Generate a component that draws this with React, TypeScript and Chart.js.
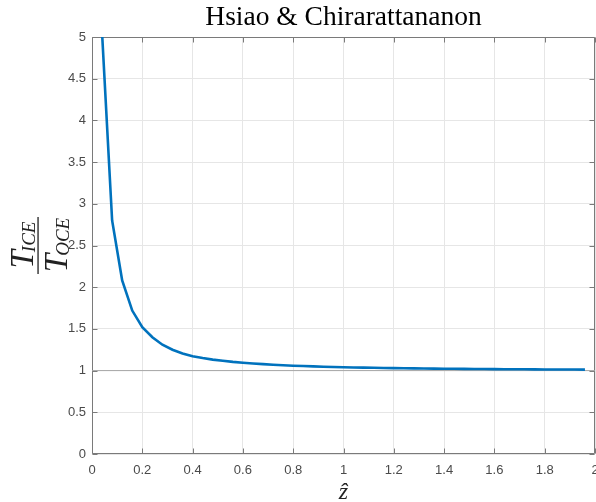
import React, { useEffect, useRef } from 'react';
import { Chart, registerables } from 'chart.js';

Chart.register(...registerables);

// ---- data ----
const zHat = [
  0.04, 0.08, 0.12, 0.16, 0.2, 0.24, 0.28, 0.32, 0.36, 0.4,
  0.44, 0.48, 0.52, 0.56, 0.6, 0.64, 0.68, 0.72, 0.76, 0.8,
  0.84, 0.88, 0.92, 0.96, 1.0, 1.04, 1.08, 1.12, 1.16, 1.2,
  1.24, 1.28, 1.32, 1.36, 1.4, 1.44, 1.48, 1.52, 1.56, 1.6,
  1.64, 1.68, 1.72, 1.76, 1.8, 1.84, 1.88, 1.92, 1.96,
];
const timeRatio = [
  5.05, 2.8, 2.08, 1.72, 1.52, 1.4, 1.31, 1.25, 1.205, 1.172,
  1.15, 1.132, 1.118, 1.105, 1.095, 1.086, 1.078, 1.071, 1.065, 1.059,
  1.055, 1.051, 1.047, 1.044, 1.041, 1.038, 1.036, 1.034, 1.032, 1.03,
  1.028, 1.027, 1.025, 1.024, 1.023, 1.022, 1.021, 1.02, 1.019, 1.018,
  1.017, 1.016, 1.016, 1.015, 1.014, 1.014, 1.013, 1.013, 1.012,
];
const refLineX = [0, 2];
const refLineY = [1, 1];

const xTicks = [0, 0.2, 0.4, 0.6, 0.8, 1, 1.2, 1.4, 1.6, 1.8, 2];
const xTickLabels = ['0', '0.2', '0.4', '0.6', '0.8', '1', '1.2', '1.4', '1.6', '1.8', '2'];
const yTicks = [0, 0.5, 1, 1.5, 2, 2.5, 3, 3.5, 4, 4.5, 5];
const yTickLabels = ['0', '0.5', '1', '1.5', '2', '2.5', '3', '3.5', '4', '4.5', '5'];

const titleText = 'Hsiao & Chirarattananon';
const xLabelText = 'ẑ';
const yNumerator = ['T', 'ICE'];
const yDenominator = ['T', 'OCE'];

const SERIF = '"Liberation Serif", "DejaVu Serif", serif';
const AXIS_COLOR = '#7a7a7a';

const decorPlugin = {
  id: 'decor',
  beforeDatasetsDraw(chart: any) {
    const { ctx, chartArea: a, scales } = chart;
    ctx.save();
    ctx.strokeStyle = AXIS_COLOR;
    ctx.lineWidth = 1;
    const L = Math.round(a.left) + 0.5;
    const R = Math.round(a.right) - 0.5;
    const T = Math.round(a.top) + 0.5;
    const B = Math.round(a.bottom) - 0.5;
    ctx.beginPath();
    ctx.rect(L, T, R - L, B - T);
    const tl = 5;
    for (const v of xTicks) {
      const px = Math.round(scales.x.getPixelForValue(v)) + 0.5;
      ctx.moveTo(px, B);
      ctx.lineTo(px, B - tl);
      ctx.moveTo(px, T);
      ctx.lineTo(px, T + tl);
    }
    for (const v of yTicks) {
      const py = Math.round(scales.y.getPixelForValue(v)) + 0.5;
      ctx.moveTo(L, py);
      ctx.lineTo(L + tl, py);
      ctx.moveTo(R, py);
      ctx.lineTo(R - tl, py);
    }
    ctx.stroke();
    ctx.restore();
  },
  afterDraw(chart: any) {
    const { ctx, chartArea: a } = chart;
    ctx.save();
    // title
    ctx.fillStyle = '#000';
    ctx.font = `27.5px ${SERIF}`;
    ctx.textAlign = 'center';
    ctx.textBaseline = 'alphabetic';
    ctx.fillText(titleText, (a.left + a.right) / 2, 25);

    // x label
    ctx.font = `italic 24px ${SERIF}`;
    ctx.fillStyle = '#222';
    ctx.fillText(xLabelText, (a.left + a.right) / 2, 499);

    // y label: fraction, rotated
    ctx.translate(45, 245);
    ctx.rotate(-Math.PI / 2);
    ctx.textAlign = 'left';
    ctx.fillStyle = '#222';
    const bigFont = `italic 33px ${SERIF}`;
    const subFont = `italic 19px ${SERIF}`;
    const drawPart = (parts: string[], baseline: number) => {
      ctx.font = bigFont;
      const w1 = ctx.measureText(parts[0]).width;
      ctx.font = subFont;
      const w2 = ctx.measureText(parts[1]).width;
      const total = w1 - 2 + w2;
      const x0 = -total / 2;
      ctx.font = bigFont;
      ctx.fillText(parts[0], x0, baseline);
      ctx.font = subFont;
      ctx.fillText(parts[1], x0 + w1 - 2, baseline + 2);
    };
    drawPart(yNumerator, -12);
    drawPart(yDenominator, 22);
    ctx.fillRect(-29, -7.6, 57, 1.3);
    ctx.restore();
  },
};

export default function App() {
  const ref = useRef<HTMLCanvasElement | null>(null);
  useEffect(() => {
    document.body.style.margin = '0';
    const canvas = ref.current!;
    const chart = new Chart(canvas, {
      type: 'line',
      data: {
        datasets: [
          {
            data: zHat.map((x, i) => ({ x, y: timeRatio[i] })),
            borderColor: '#0072BD',
            borderWidth: 2.6,
            pointRadius: 0,
            tension: 0,
            fill: false,
            clip: 0 as any,
          },
          {
            data: refLineX.map((x, i) => ({ x, y: refLineY[i] })),
            borderColor: '#a6a6a6',
            borderWidth: 1,
            pointRadius: 0,
            fill: false,
          },
        ],
      },
      options: {
        responsive: false,
        animation: false,
        events: [],
        layout: { padding: { top: 37, right: 1, left: 0, bottom: 0 } },
        plugins: {
          legend: { display: false },
          title: { display: false },
          tooltip: { enabled: false },
        },
        scales: {
          x: {
            type: 'linear',
            min: 0,
            max: 2,
            afterBuildTicks: (s: any) => {
              s.ticks = xTicks.map((v) => ({ value: v }));
            },
            afterFit: (s: any) => {
              s.height = 48;
              s.paddingLeft = 0;
              s.paddingRight = 0;
            },
            ticks: {
              autoSkip: false,
              maxRotation: 0,
              padding: 9,
              color: '#4a4a4a',
              font: { family: '"Liberation Sans", Arial, sans-serif', size: 13 },
              callback: (_v: any, i: number) => xTickLabels[i],
            },
            grid: { color: '#e6e6e6', drawTicks: false },
            border: { display: false },
          },
          y: {
            type: 'linear',
            min: 0,
            max: 5,
            afterBuildTicks: (s: any) => {
              s.ticks = yTicks.map((v) => ({ value: v }));
            },
            afterFit: (s: any) => {
              s.width = 92;
              s.paddingTop = 0;
              s.paddingBottom = 0;
            },
            ticks: {
              autoSkip: false,
              padding: 6,
              color: '#4a4a4a',
              font: { family: '"Liberation Sans", Arial, sans-serif', size: 13 },
              callback: (_v: any, i: number) => yTickLabels[i],
            },
            grid: { color: '#e6e6e6', drawTicks: false },
            border: { display: false },
          },
        },
      },
      plugins: [decorPlugin],
    } as any);
    return () => chart.destroy();
  }, []);
  return (
    <div style={{ width: 596, height: 502 }}>
      <canvas ref={ref} width={596} height={502} style={{ display: 'block' }} />
    </div>
  );
}
